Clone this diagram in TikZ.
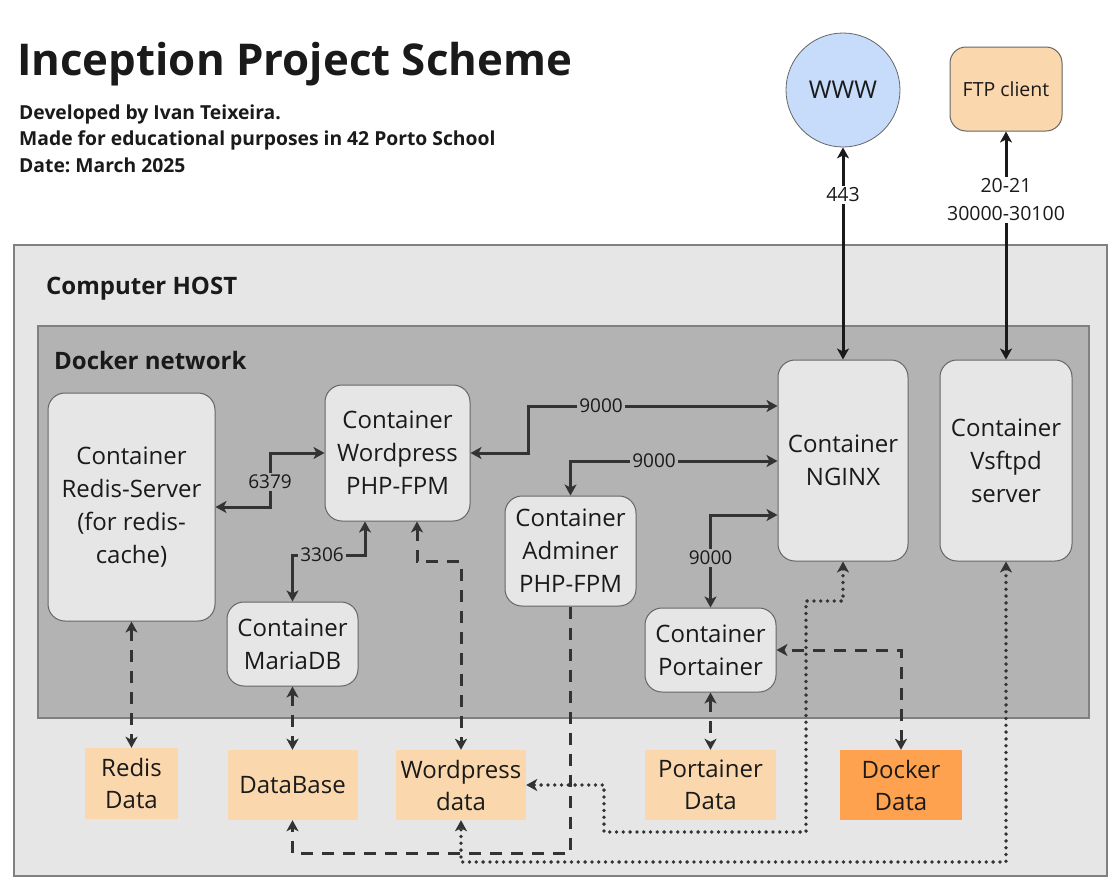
\documentclass[tikz,border=0pt]{standalone}
\usepackage{fontspec}
\IfFontExistsTF{Open Sans Bold}
  {\setmainfont{Open Sans}[BoldFont={Open Sans Bold}]}
  {\IfFontExistsTF{Noto Sans Bold}
     {\setmainfont{Noto Sans}[BoldFont={Noto Sans Bold}]}
     {\setmainfont{Open Sans}[AutoFakeBold=2.5]}}
\usetikzlibrary{arrows.meta}
\frenchspacing
\definecolor{txt}{HTML}{1A1A1A}
\definecolor{ln}{HTML}{333333}
\definecolor{hostfill}{HTML}{E6E6E6}
\definecolor{netfill}{HTML}{B3B3B3}
\definecolor{framecol}{HTML}{808080}
\definecolor{boxline}{HTML}{666666}
\definecolor{datafill}{HTML}{FAD7AC}
\definecolor{dockfill}{HTML}{FFA24F}
\definecolor{wwwfill}{HTML}{C6DCFA}
\newcommand\fsz[2]{\fontsize{#1}{#2}\selectfont}
\tikzset{
  cont/.style={draw=boxline, line width=1pt, fill=hostfill, rounded corners=17pt,
    align=center, text=txt, font=\fsz{24}{33}, inner sep=0pt},
  databox/.style={fill=datafill, align=center, text=txt, font=\fsz{24}{32}, inner sep=0pt},
  conn/.style={draw=ln, line width=3pt, {Stealth[length=11pt,width=12pt,inset=3pt]}-{Stealth[length=11pt,width=12pt,inset=3pt]}},
  conn1/.style={draw=ln, line width=3pt, -{Stealth[length=11pt,width=12pt,inset=3pt]}},
  ext/.style={draw=txt, line width=3pt, {Stealth[length=11pt,width=12pt,inset=3pt]}-{Stealth[length=11pt,width=12pt,inset=3pt]}},
  dsh/.style={dash pattern=on 12pt off 9pt},
  dot/.style={line width=3.8pt, dash pattern=on 0pt off 6.8pt, line cap=round},
  lab/.style={fill=netfill, text=txt, font=\fsz{19}{22}, inner sep=2pt},
  wlab/.style={fill=white, text=txt, font=\fsz{19.5}{28}, inner sep=2pt, align=center},
}
\begin{document}
\begin{tikzpicture}[x=1pt, y=-1pt]
\useasboundingbox[fill=white] (0,0) rectangle (1119,892);

% titles
\node[anchor=base west, inner sep=0pt, text=txt, font=\fsz{43.8}{50}\bfseries] (title) at (17,75) {Inception Project Scheme};
\node[anchor=base west, inner sep=0pt, text=txt, font=\fsz{19.3}{22}\bfseries] (sub1) at (19,119) {Developed by Ivan Teixeira.};
\node[anchor=base west, inner sep=0pt, text=txt, font=\fsz{19.3}{22}\bfseries] (sub2) at (19,145.5) {Made for educational purposes in 42 Porto School};
\node[anchor=base west, inner sep=0pt, text=txt, font=\fsz{19.3}{22}\bfseries] (sub3) at (19,172) {Date: March 2025};

% frames
\draw[draw=framecol, line width=1.2pt, fill=hostfill] (14,245) rectangle (1107,876);
\node[anchor=base west, inner sep=0pt, text=txt, font=\fsz{24}{26}\bfseries] (hostlbl) at (46,294) {Computer HOST};
\draw[draw=framecol, line width=1.2pt, fill=netfill] (38,326) rectangle (1089,718);
\node[anchor=base west, inner sep=0pt, text=txt, font=\fsz{24}{26}\bfseries] (netlbl) at (54,369) {Docker network};

% external nodes
\node[circle, draw=boxline, line width=0.8pt, fill=wwwfill, minimum size=114pt, inner sep=0pt, text=txt, font=\fsz{24.5}{26}] (www) at (843,90) {WWW};
\node[draw=boxline, line width=1pt, fill=datafill, rounded corners=16pt, minimum width=112pt, minimum height=84pt, inner sep=0pt, text=txt, font=\fsz{19.5}{22}] (ftp) at (1006,89) {FTP client};

% containers
\node[cont, minimum width=167pt, minimum height=228pt] (redis) at (131.5,507) {Container\\Redis-Server\\(for redis-\\cache)};
\node[cont, minimum width=145pt, minimum height=136pt] (wp) at (397.5,453) {Container\\Wordpress\\PHP-FPM};
\node[cont, minimum width=131pt, minimum height=84pt] (maria) at (292.5,644) {Container\\MariaDB};
\node[cont, minimum width=131pt, minimum height=110pt] (adm) at (570.5,551) {Container\\Adminer\\PHP-FPM};
\node[cont, minimum width=131pt, minimum height=84pt] (port) at (710.5,650) {Container\\Portainer};
\node[cont, minimum width=130pt, minimum height=201pt] (nginx) at (843,460.5) {Container\\NGINX};
\node[cont, minimum width=132pt, minimum height=201pt] (vsf) at (1006,460.5) {Container\\Vsftpd\\server};

% data boxes
\node[databox, minimum width=93pt, minimum height=71pt] (rdata) at (131.5,783.5) {Redis\\Data};
\node[databox, minimum width=130pt, minimum height=70pt] (db) at (292.5,785) {DataBase};
\node[databox, minimum width=130pt, minimum height=70pt] (wpdata) at (461,785) {Wordpress\\data};
\node[databox, minimum width=131pt, minimum height=70pt] (pdata) at (710.5,785) {Portainer\\Data};
\node[databox, fill=dockfill, minimum width=122pt, minimum height=70pt] (ddata) at (901,785) {Docker\\Data};

% solid connectors
\draw[conn] (redis.east) -- ++(55,0) |- (wp.west);
\node[lab] (l6379) at (270,482) {6379};
\draw[conn] ([xshift=-32.5pt]wp.south) -- ++(0,34) -| (maria.north);
\node[lab] (l3306) at (322,555) {3306};
\draw[conn] (wp.east) -- ++(58,0) |- (nginx.west |- 0,406);
\node[lab] (l9000a) at (601,406) {9000};
\draw[conn] (adm.north) |- (nginx.west |- 0,461);
\node[lab] (l9000b) at (654,461) {9000};
\draw[conn] (port.north) |- (nginx.west |- 0,515);
\node[lab] (l9000c) at (710.5,558) {9000};

% external connectors
\draw[ext] (www.south) -- (nginx.north);
\node[wlab] (l443) at (843,195) {443};
\draw[ext] (ftp.south) -- (vsf.north);
\node[wlab] (lftp) at (1006,200) {20-21\\30000-30100};

% dashed connectors
\draw[conn, dsh] (redis.south) -- (rdata.north);
\draw[conn, dsh] (maria.south) -- (db.north);
\draw[conn, dsh] ([xshift=19.5pt]wp.south) -- ++(0,40) -| (wpdata.north);
\draw[conn1, dsh] (adm.south) -- (adm.south |- 0,853) -| (db.south);
\draw[conn, dsh] (port.south) -- (pdata.north);
\draw[conn, dsh] (ddata.north) |- (port.east);

% dotted connectors
\draw[conn, dot] (nginx.south) -- (nginx.south |- 0,601) -- (806,601) -- (806,832) -- (604,832) -- (604,785) -- (wpdata.east);
\draw[conn, dot] (vsf.south) -- (vsf.south |- 0,862) -| (wpdata.south);
\end{tikzpicture}
\end{document}
